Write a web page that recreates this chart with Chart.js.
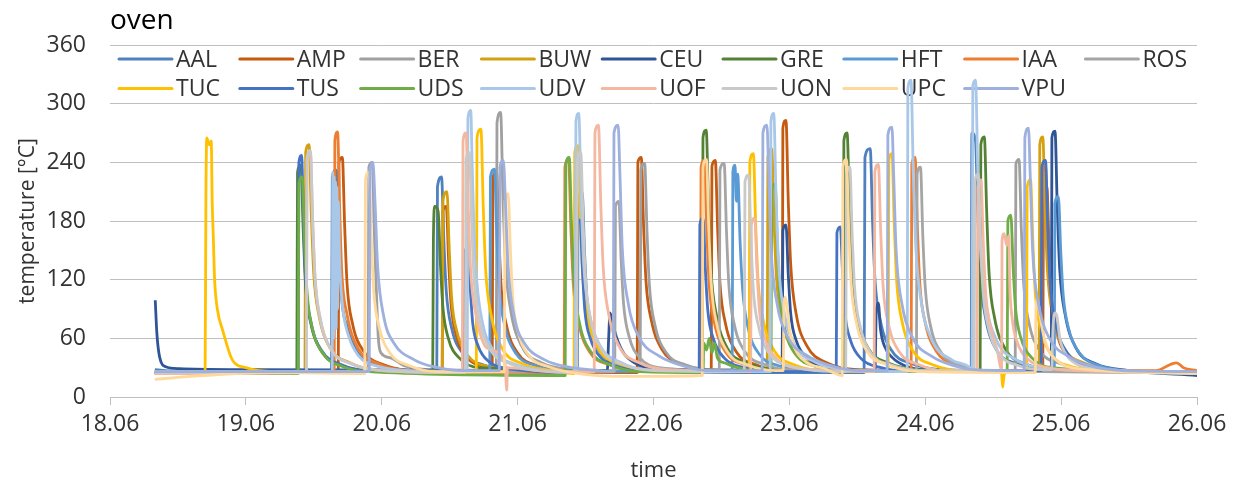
<!DOCTYPE html>
<html>
<head>
<meta charset="utf-8">
<title>oven</title>
<script src="https://cdn.jsdelivr.net/npm/chart.js@4/dist/chart.umd.min.js"></script>
<style>
  html, body { margin: 0; padding: 0; background: #fff; }
  #wrap { width: 1246px; height: 487px; }
</style>
</head>
<body>
<div id="wrap"><canvas id="ovenChart"></canvas></div>
<script>
// x values are days of June (18.5 = 18.06 noon), y values in °C
const sites = ['AAL', 'AMP', 'BER', 'BUW', 'CEU', 'GRE', 'HFT', 'IAA', 'ROS',
               'TUC', 'TUS', 'UDS', 'UDV', 'UOF', 'UON', 'UPC', 'VPU'];
const siteColors = ['#4E81BD', '#C55A11', '#A0A0A0', '#D4A010', '#2F5597', '#548235', '#5B9BD5', '#ED7D31', '#A5A5A5',
                    '#FFC000', '#4472C4', '#70AD47', '#A9C7E8', '#F4B7A0', '#C9C9C9', '#FFD89C', '#9DB0DE'];
const dayTicks = [18, 19, 20, 21, 22, 23, 24, 25, 26];
const tempTicks = [0, 60, 120, 180, 240, 300, 360];

const aal = [[18.33,28],[18.5,26],[19.0,25],
  [19.630,26],[19.636,225],[19.665,232],[19.685,165],[19.70,110],[19.745,72],[19.825,45],[19.975,33],[20.15,28],
  [20.405,26],[20.41,215],[20.44,225],[20.457,160],[20.475,108],[20.515,70],[20.595,45],[20.745,33],[20.95,28],
  [21.44,26],[21.445,200],[21.475,210],[21.492,150],[21.51,100],[21.55,65],[21.63,42],[21.785,32],[22.0,27],[22.8,25],
  [23.55,25],[23.556,245],[23.595,254],[23.612,180],[23.63,120],[23.67,78],[23.75,48],[23.905,34],[24.1,28],
  [24.338,26],[24.343,270],[24.37,262],[24.387,185],[24.405,125],[24.445,80],[24.525,48],[24.675,34],[24.9,28],
  [25.5,26],[26.0,24]];
const amp = [[18.33,24],[19.0,25],
  [19.68,25],[19.685,240],[19.71,245],[19.727,175],[19.745,115],[19.785,75],[19.865,47],[20.015,33],[20.2,27],
  [20.445,25],[20.45,190],[20.475,195],[20.492,140],[20.51,95],[20.55,62],[20.63,40],[20.775,30],
  [20.813,28],[20.818,225],[20.845,230],[20.862,165],[20.88,110],[20.92,72],[21.0,45],[21.145,32],[21.35,26],
  [21.88,25],[21.885,240],[21.91,245],[21.927,175],[21.945,118],[21.985,78],[22.065,48],[22.215,33],[22.38,28],
  [22.425,27],[22.43,236],[22.455,242],[22.472,172],[22.49,115],[22.53,75],[22.61,46],[22.755,33],[22.9,28],
  [22.948,28],[22.952,275],[22.975,283],[22.992,200],[23.01,135],[23.05,85],[23.13,52],[23.275,35],[23.5,28],
  [24.865,26],[24.87,210],[24.895,215],[24.912,150],[24.93,100],[24.97,65],[25.05,42],[25.195,31],[25.4,27],
  [26.0,25]];
const ber = [[18.33,25],[19.5,26],
  [19.9,26],[19.905,235],[19.93,240],[19.945,170],[19.96,110],[19.975,60],[19.995,45],[20.065,40],[20.165,32],[20.35,28],
  [20.843,27],[20.848,280],[20.875,291],[20.892,205],[20.91,138],[20.95,88],[21.03,52],[21.175,35],[21.4,28],
  [21.902,26],[21.907,232],[21.935,239],[21.952,170],[21.97,114],[22.01,74],[22.09,46],[22.235,33],[22.45,28],
  [24.662,27],[24.667,238],[24.69,243],[24.707,172],[24.725,115],[24.765,75],[24.845,47],[24.995,34],[25.2,28],
  [26.0,26]];
const buw = [[18.33,25],[19.0,25],
  [19.435,25],[19.44,250],[19.465,258],[19.482,185],[19.5,125],[19.54,82],[19.62,50],[19.765,35],[19.95,28],
  [20.445,26],[20.45,200],[20.48,210],[20.497,150],[20.515,100],[20.555,66],[20.635,42],[20.785,31],[21.0,27],
  [22.837,26],[22.842,245],[22.87,254],[22.887,180],[22.905,122],[22.945,80],[23.025,48],[23.175,34],[23.4,28],
  [24.838,26],[24.843,258],[24.865,266],[24.882,190],[24.9,128],[24.94,82],[25.02,50],[25.165,35],[25.4,28],
  [26.0,25]];
const ceu = [[18.333,99],[18.345,65],[18.365,41],[18.41,31],[18.51,29],[19.0,28],
  [21.66,27],[21.67,60],[21.68,86],[21.7,75],[21.73,60],[21.78,45],[21.86,35],[22.0,29],
  [22.947,27],[22.952,170],[22.975,176],[22.992,125],[23.01,85],[23.05,58],[23.13,40],[23.275,31],
  [23.63,27],[23.64,90],[23.655,96],[23.67,70],[23.7,52],[23.76,40],[23.85,32],[24.0,28],
  [24.928,27],[24.932,265],[24.955,272],[24.972,192],[24.99,130],[25.03,84],[25.11,50],[25.255,34],[25.5,27],
  [26.0,22]];
const gre = [[18.33,25],
  [19.375,24],[19.38,230],[19.405,237],[19.422,170],[19.44,113],[19.48,74],[19.56,46],[19.705,32],[19.9,27],
  [20.375,25],[20.38,160],[20.39,195],[20.415,190],[20.432,135],[20.45,92],[20.49,60],[20.57,40],[20.715,30],
  [22.36,26],[22.364,265],[22.388,273],[22.405,195],[22.423,130],[22.463,84],[22.543,50],[22.685,35],[22.9,28],
  [23.397,26],[23.401,262],[23.425,270],[23.442,192],[23.46,128],[23.5,82],[23.58,50],[23.725,35],[23.95,28],
  [24.404,27],[24.409,258],[24.435,266],[24.452,190],[24.47,126],[24.51,81],[24.59,49],[24.735,34],[24.95,28],
  [26.0,25]];
const hft = [[18.33,26],
  [20.795,27],[20.8,225],[20.83,233],[20.847,165],[20.865,112],[20.905,73],[20.985,45],[21.135,32],[21.35,27],
  [22.579,26],[22.584,230],[22.6,237],[22.61,200],[22.62,228],[22.637,160],[22.657,108],[22.697,70],[22.777,44],[22.92,32],[23.15,27],
  [24.95,27],[24.954,198],[24.98,205],[24.997,150],[25.015,105],[25.055,70],[25.135,45],[25.285,32],[25.5,27],
  [26.0,25]];
const iaa = [[18.33,25],
  [19.65,25],[19.655,262],[19.675,271],[19.69,195],[19.705,130],[19.745,84],[19.825,50],[19.975,34],[20.2,27],
  [21.343,25],[21.348,235],[21.375,243],[21.392,172],[21.41,115],[21.45,75],[21.53,46],[21.675,33],[21.9,27],
  [22.345,26],[22.35,235],[22.375,242],[22.392,172],[22.41,115],[22.45,75],[22.53,46],[22.675,33],[22.9,27],
  [23.896,26],[23.901,238],[23.925,245],[23.942,174],[23.96,116],[24.0,76],[24.08,47],[24.225,33],[24.45,27],
  [24.855,27],[24.86,228],[24.885,235],[24.902,168],[24.92,112],[24.96,73],[25.04,45],[25.185,32],[25.4,27],
  [25.7,27],[25.8,33],[25.85,35],[25.9,30],[26.0,27]];
const ros = [[18.33,26],
  [21.715,26],[21.72,195],[21.745,200],[21.762,140],[21.78,95],[21.82,62],[21.9,40],[22.045,30],
  [22.484,27],[22.489,232],[22.52,239],[22.537,170],[22.555,114],[22.595,74],[22.675,46],[22.825,33],[23.0,28],
  [23.935,27],[23.94,228],[23.965,235],[23.982,165],[24.0,112],[24.04,72],[24.12,45],[24.265,32],[24.45,27],
  [26.0,25]];
const tuc = [[18.33,26],
  [18.70,26],[18.706,205],[18.712,265],[18.73,258],[18.745,262],[18.752,200],[18.76,165],[18.77,120],[18.79,90],[18.83,68],[18.9,38],[19.0,30],[19.2,26],
  [20.696,26],[20.701,265],[20.73,274],[20.747,195],[20.765,130],[20.805,84],[20.885,50],[21.035,34],[21.25,27],
  [21.415,24],[21.42,250],[21.445,257],[21.462,182],[21.48,122],[21.52,79],[21.6,48],[21.745,34],[21.95,27],
  [22.704,26],[22.709,240],[22.735,249],[22.752,176],[22.77,118],[22.81,77],[22.89,47],[23.035,33],[23.25,27],
  [23.727,26],[23.732,242],[23.755,249],[23.772,176],[23.79,118],[23.83,77],[23.91,47],[24.055,33],[24.3,27],
  [24.56,26],[24.57,10],[24.58,22],[24.6,26],
  [24.745,26],[24.75,215],[24.775,222],[24.792,158],[24.81,106],[24.85,69],[24.93,43],[25.075,31],[25.3,27],
  [26.0,25]];
const tus = [[18.33,25],
  [19.385,25],[19.39,240],[19.41,247],[19.425,175],[19.44,118],[19.48,76],[19.56,47],[19.705,33],[19.9,27],
  [20.605,26],[20.61,148],[20.635,153],[20.652,110],[20.67,75],[20.71,52],[20.79,36],[20.935,29],
  [21.43,25],[21.436,175],[21.46,181],[21.477,130],[21.495,88],[21.535,60],[21.615,40],[21.76,30],[22.0,26],
  [22.336,26],[22.341,176],[22.365,183],[22.382,130],[22.4,88],[22.44,60],[22.52,40],[22.665,30],[22.9,26],
  [23.345,26],[23.35,168],[23.375,174],[23.392,125],[23.41,85],[23.45,58],[23.53,39],[23.675,30],[23.9,26],
  [24.853,27],[24.858,235],[24.885,242],[24.902,172],[24.92,115],[24.96,75],[25.04,46],[25.185,33],[25.4,27],
  [26.0,24]];
const uds = [[18.33,24],
  [19.385,24],[19.39,218],[19.415,225],[19.432,160],[19.45,108],[19.49,70],[19.57,44],[19.715,31],[19.9,26],
  [21.35,22],[21.355,238],[21.38,245],[21.397,175],[21.415,118],[21.455,76],[21.535,47],[21.68,33],[21.9,26],
  [22.365,25],[22.37,55],[22.39,48],[22.41,60],[22.43,45],[22.45,55],[22.47,40],[22.52,35],[22.65,29],
  [22.865,26],[22.87,212],[22.895,218],[22.912,155],[22.93,104],[22.97,68],[23.05,43],[23.195,31],[23.4,26],
  [24.603,26],[24.608,180],[24.63,186],[24.647,132],[24.665,90],[24.705,60],[24.785,40],[24.935,30],
  [26.0,25]];
const udv = [[18.33,26],
  [19.635,26],[19.64,230],[19.645,60],[19.65,225],[19.655,80],[19.66,220],[19.665,70],[19.67,215],[19.675,90],[19.68,200],[19.69,140],[19.71,95],[19.75,65],[19.83,42],[19.98,31],[20.2,27],
  [20.629,26],[20.634,285],[20.655,293],[20.665,240],[20.678,175],[20.7,118],[20.74,77],[20.82,48],[20.97,34],[21.2,27],
  [21.424,25],[21.429,282],[21.45,290],[21.467,205],[21.485,138],[21.525,88],[21.605,53],[21.75,36],[21.95,28],
  [22.859,26],[22.864,282],[22.885,290],[22.902,205],[22.92,138],[22.96,88],[23.04,53],[23.185,36],[23.4,28],
  [23.867,26],[23.872,315],[23.895,324],[23.912,230],[23.93,155],[23.97,98],[24.05,58],[24.195,38],[24.33,30],
  [24.345,27],[24.35,318],[24.37,324],[24.387,230],[24.405,155],[24.445,98],[24.525,58],[24.67,38],[24.9,29],
  [26.0,25]];
const uof = [[18.33,24],
  [19.445,25],[19.45,243],[19.475,250],[19.492,178],[19.51,120],[19.55,78],[19.63,48],[19.775,34],[20.0,27],
  [20.593,25],[20.598,262],[20.62,270],[20.637,192],[20.655,128],[20.695,83],[20.775,50],[20.907,35],[20.92,7],[20.925,30],[21.15,27],
  [21.564,26],[21.569,270],[21.595,278],[21.612,198],[21.63,132],[21.67,85],[21.75,51],[21.895,35],[22.1,28],
  [22.715,26],[22.72,176],[22.745,183],[22.762,130],[22.78,88],[22.82,60],[22.9,40],[23.045,30],
  [23.624,26],[23.629,230],[23.655,238],[23.672,170],[23.69,113],[23.73,74],[23.81,46],[23.955,33],[24.15,27],
  [24.382,27],[24.387,215],[24.41,222],[24.427,158],[24.445,106],[24.485,69],[24.53,48],
  [24.562,28],[24.565,160],[24.58,167],[24.6,155],[24.615,165],[24.622,115],[24.64,80],[24.68,55],[24.76,38],[24.9,30],[25.1,27],
  [26.0,25]];
const uon = [[18.33,25],
  [19.445,25],[19.45,245],[19.475,252],[19.492,180],[19.51,121],[19.55,79],[19.63,48],[19.775,34],[20.0,27],
  [20.615,25],[20.62,243],[20.645,250],[20.662,178],[20.68,120],[20.72,78],[20.8,48],[20.945,34],[21.15,27],
  [21.435,25],[21.44,243],[21.465,250],[21.482,178],[21.5,120],[21.54,78],[21.62,48],[21.765,34],[22.0,27],
  [22.668,26],[22.673,220],[22.7,227],[22.717,162],[22.735,109],[22.775,71],[22.855,44],[23.0,32],[23.2,27],
  [23.415,26],[23.42,228],[23.445,235],[23.462,167],[23.48,112],[23.52,73],[23.6,45],[23.745,33],[24.0,27],
  [24.36,27],[24.365,220],[24.39,228],[24.407,162],[24.425,109],[24.465,71],[24.545,44],[24.69,32],[24.85,28],
  [24.93,28],[24.94,70],[24.955,86],[24.97,82],[24.99,60],[25.03,45],[25.11,34],[25.26,29],
  [26.0,25]];
const upc = [[18.33,18],[18.5,20],[18.8,23],[19.2,25],
  [19.875,24],[19.88,222],[19.905,230],[19.922,165],[19.94,110],[19.98,72],[20.06,45],[20.205,32],[20.4,26],
  [20.902,26],[20.907,200],[20.93,208],[20.947,150],[20.965,100],[21.005,66],[21.085,42],[21.23,31],[21.4,25],[21.8,21],
  [22.359,22],[22.364,235],[22.39,243],[22.407,172],[22.425,116],[22.465,75],[22.545,46],[22.69,33],[22.9,27],
  [22.955,27],[22.96,95],[22.97,102],[22.985,90],[23.0,70],[23.04,50],[23.12,36],[23.26,29],
  [23.389,22],[23.394,235],[23.42,243],[23.437,172],[23.455,116],[23.495,75],[23.575,46],[23.72,33],[23.95,26],
  [24.81,25],[24.815,92],[24.825,100],[24.84,88],[24.86,70],[24.9,50],[24.98,36],[25.12,29],
  [26.0,24]];
const vpu = [[18.33,26],
  [19.908,26],[19.913,232],[19.935,240],[19.95,201],[19.97,133],[20.015,82],[20.09,55],[20.24,38],[20.38,31],[20.6,27],
  [20.865,27],[20.87,235],[20.895,242],[20.91,200],[20.93,133],[20.975,82],[21.05,55],[21.2,38],[21.36,31],[21.6,27],
  [21.704,26],[21.709,270],[21.74,278],[21.752,232],[21.77,153],[21.815,95],[21.89,62],[22.04,42],[22.19,33],[22.4,27],
  [22.8,27],[22.805,270],[22.835,278],[22.847,232],[22.865,153],[22.91,95],[22.985,62],[23.135,42],[23.285,33],[23.5,27],
  [23.72,27],[23.725,268],[23.755,276],[23.767,230],[23.785,152],[23.83,94],[23.905,61],[24.055,41],[24.21,32],[24.35,28],
  [24.728,27],[24.733,265],[24.76,275],[24.772,229],[24.79,151],[24.835,94],[24.91,61],[25.06,41],[25.21,32],[25.45,27],
  [26.0,26]];

const siteSeries = [aal, amp, ber, buw, ceu, gre, hft, iaa, ros, tuc, tus, uds, udv, uof, uon, upc, vpu];

const FONT = '"Open Sans", "Liberation Sans", sans-serif';
const TEXT = '#333333';
const GRID = '#BFBFBF';

Chart.defaults.font.family = FONT;
Chart.defaults.color = TEXT;

// Excel-style legend: fixed columns inside the plot, drawn under the lines
const gridLegend = {
    id: 'gridLegend',
    beforeDatasetsDraw(chart) {
        const { ctx, chartArea } = chart;
        ctx.save();
        ctx.font = '23px ' + FONT;
        ctx.textBaseline = 'middle';
        ctx.lineWidth = 3;
        ctx.lineCap = 'round';
        chart.data.datasets.forEach((ds, i) => {
            const col = i % 9, row = Math.floor(i / 9);
            const x = chartArea.left + 9 + col * 120.8;
            const y = chartArea.top + 14 + row * 29.5;
            ctx.strokeStyle = ds.borderColor;
            ctx.beginPath();
            ctx.moveTo(x, y);
            ctx.lineTo(x + 53, y);
            ctx.stroke();
            ctx.fillStyle = TEXT;
            ctx.fillText(ds.label, x + 57, y + 1);
        });
        ctx.restore();
    }
};

const datasets = sites.map((name, i) => ({
    label: name,
    data: siteSeries[i].map(p => ({ x: p[0], y: p[1] })),
    borderColor: siteColors[i],
    backgroundColor: siteColors[i],
    borderWidth: 2.8,
    pointRadius: 0,
    cubicInterpolationMode: 'monotone',
    fill: false,
    borderJoinStyle: 'round',
    order: sites.length - i
}));

new Chart(document.getElementById('ovenChart').getContext('2d'), {
    type: 'line',
    data: { datasets },
    plugins: [gridLegend],
    options: {
        responsive: true,
        maintainAspectRatio: false,
        animation: false,
        layout: { padding: { left: 0, right: 49, top: 0, bottom: 0 } },
        plugins: {
            legend: { display: false },
            tooltip: { enabled: false },
            title: {
                display: true,
                text: 'oven',
                align: 'start',
                fullSize: false,
                color: '#000',
                font: { size: 28, weight: 'normal' },
                padding: { top: 4, bottom: 7.4 }
            }
        },
        scales: {
            x: {
                type: 'linear',
                min: dayTicks[0],
                max: dayTicks[dayTicks.length - 1],
                afterFit: s => { s.height = 90; },
                afterBuildTicks: s => { s.ticks = dayTicks.map(v => ({ value: v })); },
                ticks: {
                    callback: v => v + '.06',
                    font: { size: 23 },
                    color: TEXT,
                    padding: 6,
                    maxRotation: 0,
                    autoSkip: false
                },
                grid: { drawOnChartArea: false, drawTicks: true, tickLength: 8, color: GRID },
                border: { color: GRID },
                title: { display: true, text: 'time', font: { size: 22 }, color: TEXT, padding: { top: 0, bottom: 3 } }
            },
            y: {
                min: tempTicks[0],
                max: tempTicks[tempTicks.length - 1],
                afterFit: s => { s.width = 110; },
                afterBuildTicks: s => { s.ticks = tempTicks.map(v => ({ value: v })); },
                ticks: { font: { size: 23 }, color: TEXT, padding: 24 },
                grid: { color: GRID, drawTicks: false },
                border: { display: false },
                title: { display: true, text: 'temperature [°C]', font: { size: 21 }, color: TEXT, padding: { top: 15, bottom: 0 } }
            }
        }
    }
});
</script>
</body>
</html>
